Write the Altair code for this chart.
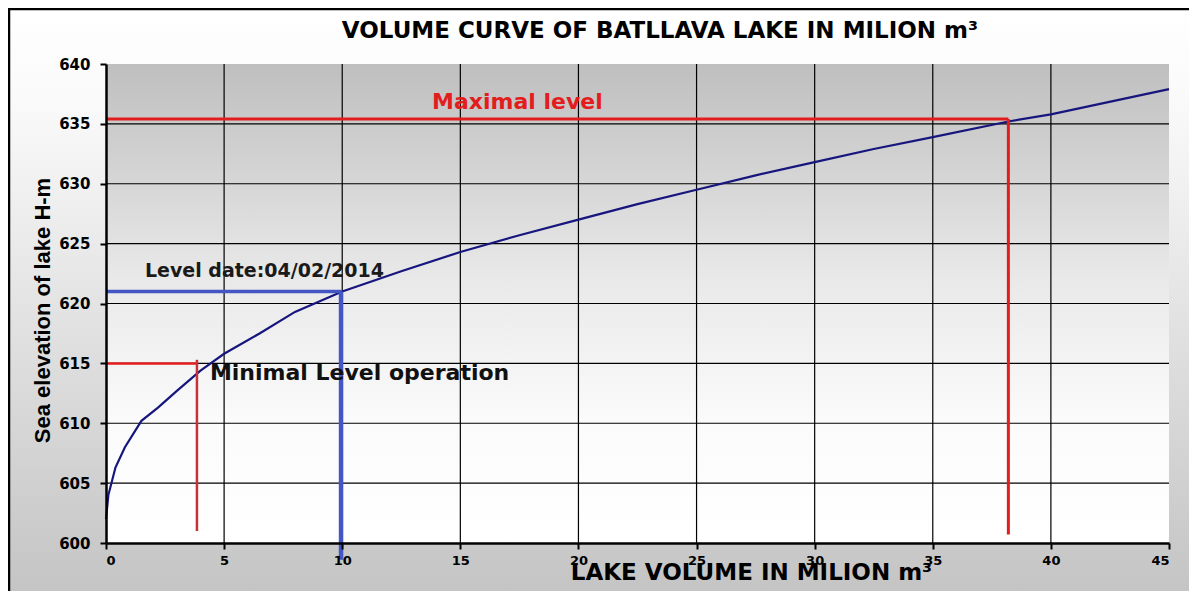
import altair as alt
import pandas as pd

# ---- data ----
volume = [0, 0.1, 0.4, 0.8, 1.5, 2.2, 3.0, 4.0, 5.0, 6.5, 8.0, 10.0, 12.5, 15.0,
          17.5, 20.0, 22.5, 25.0, 27.5, 30.0, 32.5, 35.0, 38.2, 40.0, 45.0]
elevation = [602.0, 604.0, 606.3, 608.0, 610.2, 611.3, 612.7, 614.4, 615.8, 617.5,
             619.3, 621.0, 622.7, 624.3, 625.7, 627.0, 628.3, 629.5, 630.7, 631.8,
             632.9, 633.9, 635.2, 635.8, 637.9]

x_ticks = [0, 5, 10, 15, 20, 25, 30, 35, 40, 45]
y_ticks = [600, 605, 610, 615, 620, 625, 630, 635, 640]
x_grid = [5, 10, 15, 20, 25, 30, 35, 40]
y_grid = [605, 610, 615, 620, 625, 630, 635]

max_level, max_vol = 635.4, 38.2
min_level, min_vol = 615.0, 3.85
cur_level, cur_vol = 621.0, 9.95

chart_title = "VOLUME CURVE OF BATLLAVA LAKE IN MILION m³"

W, H = 1063, 479

xs = alt.Scale(domain=[0, 45], nice=False, zero=False)
ys = alt.Scale(domain=[600, 640], nice=False, zero=False)

xaxis = alt.Axis(values=x_ticks, grid=False, title="LAKE VOLUME IN MILION m³",
                 titleFont="DejaVu Sans", titleFontSize=23, titleFontWeight="bold",
                 titleColor="black", titleX=645, titleY=29, titleAlign="center",
                 titleBaseline="middle", labelFont="DejaVu Sans", labelFontSize=13,
                 labelFontWeight="bold", labelColor="black", labelPadding=5,
                 domainColor="black", domainWidth=2.5, tickColor="black", tickWidth=2,
                 tickSize=6, zindex=1)
yaxis = alt.Axis(values=y_ticks, grid=False, title="Sea elevation of lake H-m",
                 titleFont="Liberation Sans", titleFontSize=22, titleFontWeight="bold",
                 titleColor="black", titleX=-64, titleY=246, titleAngle=270,
                 titleAlign="center", titleBaseline="middle",
                 labelFont="DejaVu Sans", labelFontSize=15, labelFontWeight="bold",
                 labelColor="black", labelPadding=10, domainColor="black",
                 domainWidth=2.5, tickColor="black", tickWidth=2, tickSize=6, zindex=1)

X = alt.X("x:Q", scale=xs, axis=xaxis)
Y = alt.Y("y:Q", scale=ys, axis=yaxis)

# outer chart background (decoration)
outer = alt.Chart(pd.DataFrame({"a": [0]})).mark_rect(
    fill=alt.LinearGradient(gradient="linear", x1=0, x2=0, y1=0, y2=1,
                            stops=[alt.GradientStop(color="#ffffff", offset=0),
                                   alt.GradientStop(color="#fafafa", offset=0.15),
                                   alt.GradientStop(color="#c2c2c2", offset=1)]),
    stroke="black", strokeWidth=2.5
).encode(x=alt.value(-97), x2=alt.value(W + 40), y=alt.value(-55), y2=alt.value(H + 70))

# chart title as a text mark
title_mark = alt.Chart(pd.DataFrame({"t": [chart_title]})).mark_text(
    align="center", baseline="middle", font="DejaVu Sans", fontWeight="bold",
    fontSize=23, color="black"
).encode(x=alt.value(554), y=alt.value(-33), text="t:N")

# plot area background
plot_bg = alt.Chart(pd.DataFrame({"x": [0], "x2": [45], "y": [600], "y2": [640]})).mark_rect(
    fill=alt.LinearGradient(gradient="linear", x1=0, x2=0, y1=0, y2=1,
                            stops=[alt.GradientStop(color="#bfbfbf", offset=0),
                                   alt.GradientStop(color="#e9e9e9", offset=0.45),
                                   alt.GradientStop(color="#fbfbfb", offset=0.75),
                                   alt.GradientStop(color="#ffffff", offset=1)])
).encode(x=X, x2="x2:Q", y=Y, y2="y2:Q")

vgrid = alt.Chart(pd.DataFrame({"x": x_grid, "y": [600] * len(x_grid), "y2": [640] * len(x_grid)})
                  ).mark_rule(color="black", strokeWidth=1.2).encode(x=X, y=Y, y2="y2:Q")
hgrid = alt.Chart(pd.DataFrame({"y": y_grid, "x": [0] * len(y_grid), "x2": [45] * len(y_grid)})
                  ).mark_rule(color="black", strokeWidth=1.2).encode(x=X, x2="x2:Q", y=Y)

curve = alt.Chart(pd.DataFrame({"x": volume, "y": elevation})).mark_line(
    color="#16167e", strokeWidth=2.2, interpolate="linear").encode(x=X, y=Y)


def seg(x, x2, y, y2, color, width):
    return alt.Chart(pd.DataFrame({"x": [x], "x2": [x2], "y": [y], "y2": [y2]})).mark_rule(
        color=color, strokeWidth=width).encode(x=X, x2="x2:Q", y=Y, y2="y2:Q")


rules = [
    seg(0, max_vol, max_level, max_level, "#e31d1d", 3),
    seg(max_vol, max_vol, max_level, 600.7, "#e31d1d", 3),
    seg(0, min_vol, min_level, min_level, "#e31d1d", 2.5),
    seg(min_vol, min_vol, min_level + 0.3, 601.0, "#c8303a", 2.5),
    seg(0, cur_vol, cur_level, cur_level, "#4455c4", 3.5),
    seg(cur_vol, cur_vol, cur_level, 598.6, "#4455c4", 4.5),
]


def label(x, y, text, color, size):
    return alt.Chart(pd.DataFrame({"x": [x], "y": [y], "t": [text]})).mark_text(
        align="left", baseline="middle", font="DejaVu Sans", fontWeight="bold",
        fontSize=size, color=color).encode(x=X, y=Y, text="t:N")


texts = [
    label(13.8, 636.8, "Maximal level", "#e31d1d", 22),
    label(1.65, 622.75, "Level date:04/02/2014", "#1a1a1a", 19),
    label(4.4, 614.2, "Minimal Level operation", "#111111", 22),
]

chart = alt.layer(outer, title_mark, plot_bg, vgrid, hgrid, curve, *rules, *texts).properties(
    width=W, height=H,
    autosize=alt.AutoSizeParams(type="none"),
    padding={"left": 98, "top": 56, "right": 20, "bottom": 48},
    background="white",
).configure_view(stroke=None)

chart.save("out.html", embed_options={"renderer": "svg", "actions": False})
